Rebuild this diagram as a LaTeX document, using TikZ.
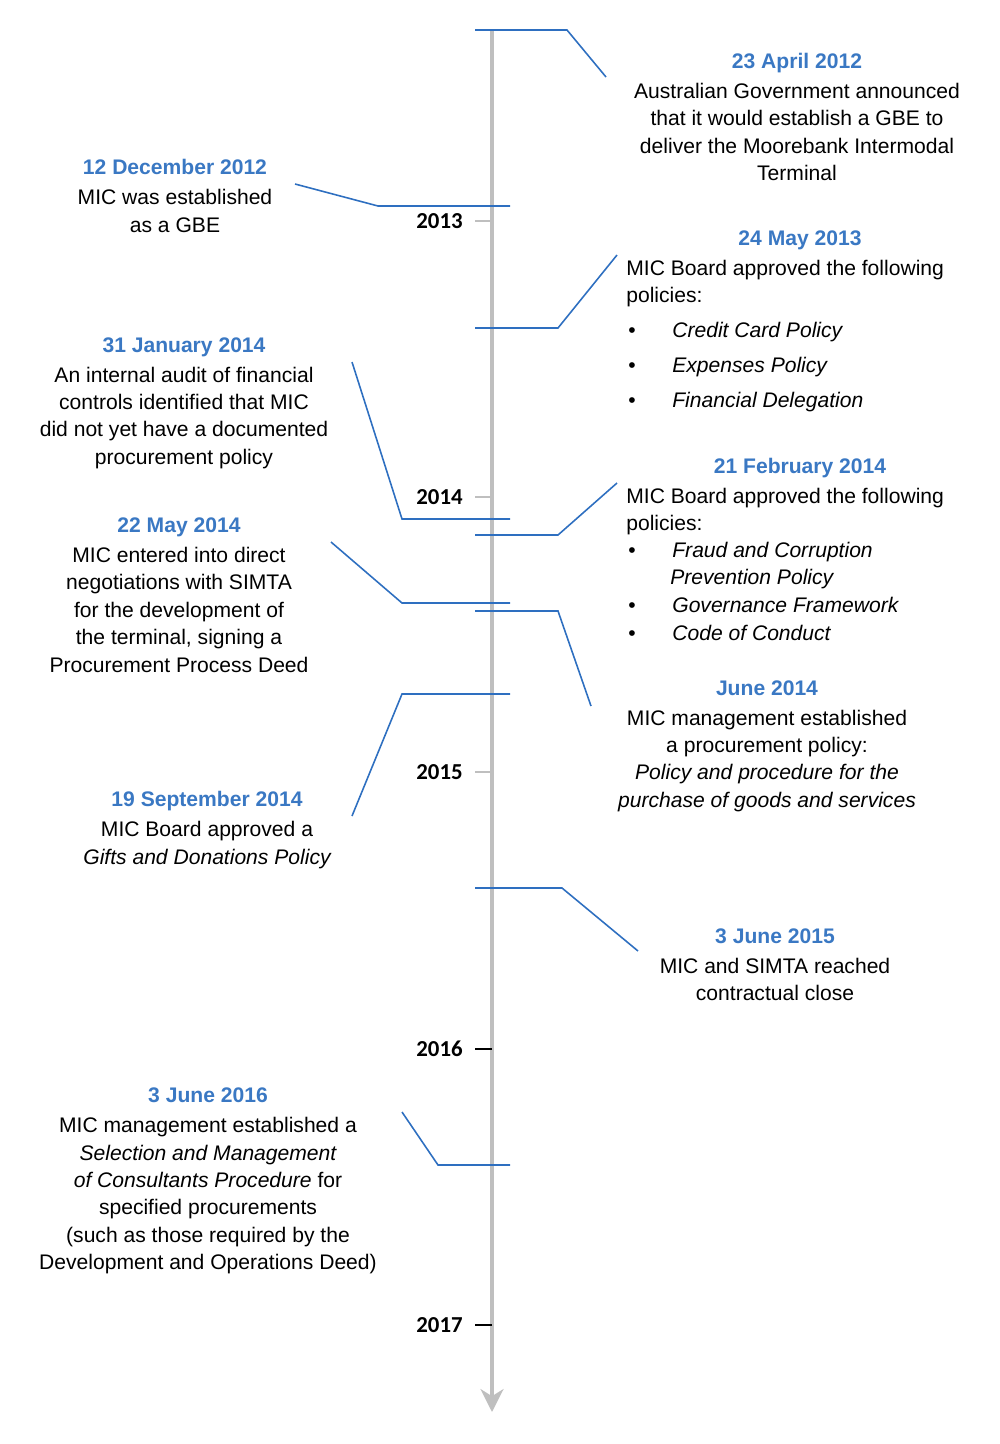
\documentclass[tikz,border=0pt]{standalone}
\usepackage{fontspec}
\setmainfont{Liberation Sans}
\newfontfamily\yearfont{Carlito}
\usetikzlibrary{arrows.meta}
\definecolor{dateblue}{HTML}{3A78C3}
\definecolor{linkblue}{HTML}{2E6FC0}
\definecolor{axisgray}{HTML}{BFBFBF}
\newcommand{\when}[1]{{\color{dateblue}\bfseries #1}\\[1.5pt]}
\tikzset{
  event/.style={align=center,inner sep=0pt,font=\fontsize{12}{15.6}\selectfont},
  item/.style={anchor=base west,inner sep=0pt,font=\fontsize{12}{15.6}\selectfont\itshape},
  dot/.style={anchor=base,inner sep=0pt,font=\fontsize{12}{15.6}\selectfont},
  link/.style={linkblue,line width=0.9pt},
  year/.style={anchor=east,inner sep=0pt,font=\yearfont\bfseries\fontsize{13}{15}\selectfont},
}
\begin{document}
\begin{tikzpicture}[x=0.02cm,y=-0.02cm]
\useasboundingbox (0,0) rectangle (1000,1444);
% time axis
\coordinate (top) at (492,30);
\coordinate (end) at (492,1412);
\draw[axisgray,line width=2.4pt,-{Stealth[length=13pt,width=13pt,inset=4pt]}] (top) -- (end);
\foreach \yr/\y/\c in {2013/221/axisgray,2014/497/axisgray,2015/772/axisgray,2016/1049/black,2017/1325/black}{
  \coordinate (t\yr) at (492,\y);
  \draw[\c,line width=\ifx\c\axisgray 2.4pt\else 0.9pt\fi] (t\yr) -- +(-17,0);
  \node[year] (y\yr) at (463,\y) {\yr};
}
% events
\node[event] (apr12) at (797,117) {\when{23 April 2012}Australian Government announced\\that it would establish a GBE to\\deliver the Moorebank Intermodal\\Terminal};
\node[event] (dec12) at (175,196) {\when{12 December 2012}MIC was established\\as a GBE};
\node[event] (may13) at (800,240) {\color{dateblue}\bfseries 24 May 2013};
\node[event,anchor=base west] (may13t) at (626,275) {MIC Board approved the following};
\node[event,anchor=base west] (may13u) at (626,302) {policies:};
\foreach \txt [count=\i] in {Credit Card Policy,Expenses Policy,Financial Delegation}{
  \node[dot] (b1\i) at (632,302+35*\i) {\textbullet};
  \node[item] (p1\i) at (672,302+35*\i) {\txt};
}
\node[event] (jan14) at (184,403) {\when{31 January 2014}An internal audit of financial\\controls identified that MIC\\did not yet have a documented\\procurement policy};
\node[event] (feb14) at (800,468) {\color{dateblue}\bfseries 21 February 2014};
\node[event,anchor=base west] (feb14t) at (626,503) {MIC Board approved the following};
\node[event,anchor=base west] (feb14u) at (626,530) {policies:};
\node[dot] (b21) at (632,557) {\textbullet};
\node[item] (p21) at (672,557) {Fraud and Corruption};
\node[item] (p21b) at (670,584) {Prevention Policy};
\node[dot] (b22) at (632,612) {\textbullet};
\node[item] (p22) at (672,612) {Governance Framework};
\node[dot] (b23) at (632,640) {\textbullet};
\node[item] (p23) at (672,640) {Code of Conduct};
\node[event] (may14) at (179,595) {\when{22 May 2014}MIC entered into direct\\negotiations with SIMTA\\for the development of\\the terminal, signing a\\Procurement Process Deed};
\node[event] (jun14) at (767,746) {\when{June 2014}MIC management established\\a procurement policy:\\\itshape Policy and procedure for the\\\itshape purchase of goods and services};
\node[event] (sep14) at (207,830) {\when{19 September 2014}MIC Board approved a\\\itshape Gifts and Donations Policy};
\node[event] (jun15) at (775,965) {\when{3 June 2015}MIC and SIMTA reached\\contractual close};
\node[event] (jun16) at (208,1181) {\when{3 June 2016}MIC management established a\\\itshape Selection and Management\\{\itshape of Consultants Procedure} for\\specified procurements\\(such as those required by the\\Development and Operations Deed)};
% leader lines
\coordinate (a1) at (606,77);
\coordinate (a2) at (295,184);
\coordinate (a3) at (617,255);
\coordinate (a4) at (352,362);
\coordinate (a5) at (617,483);
\coordinate (a6) at (331,542);
\coordinate (a7) at (591,706);
\coordinate (a8) at (352,816);
\coordinate (a9) at (638,951);
\coordinate (a10) at (402,1112);
\draw[link] (475,30) -- (567,30) -- (a1);
\draw[link] (510,206) -- (378,206) -- (a2);
\draw[link] (475,328) -- (558,328) -- (a3);
\draw[link] (510,519) -- (402,519) -- (a4);
\draw[link] (475,535) -- (558,535) -- (a5);
\draw[link] (510,603) -- (402,603) -- (a6);
\draw[link] (475,611) -- (558,611) -- (a7);
\draw[link] (510,694) -- (402,694) -- (a8);
\draw[link] (475,888) -- (562,888) -- (a9);
\draw[link] (510,1165) -- (438,1165) -- (a10);
\end{tikzpicture}
\end{document}
